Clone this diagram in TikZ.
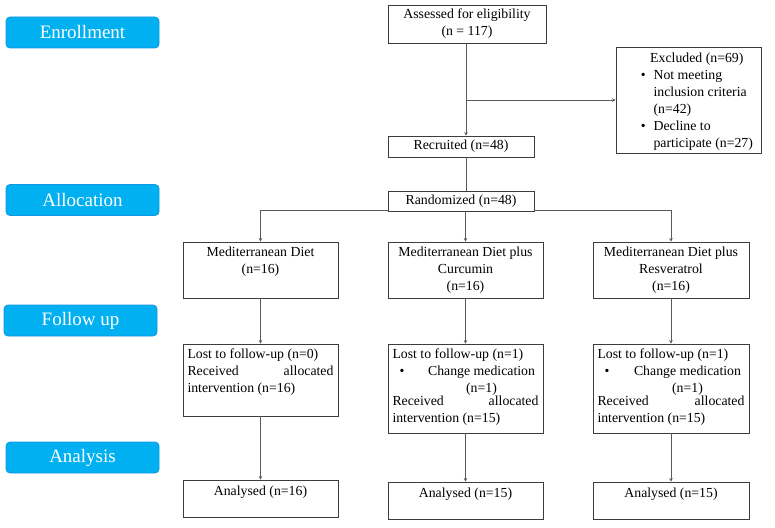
\documentclass[tikz,border=0pt]{standalone}
\usepackage{fontspec}
\setmainfont{Liberation Serif}
\usetikzlibrary{arrows.meta,positioning}
\definecolor{stagecyan}{RGB}{0,176,240}
\definecolor{stageedge}{RGB}{20,150,225}
\definecolor{boxline}{RGB}{60,60,60}
\definecolor{flowline}{RGB}{90,90,90}

\begin{document}
\begin{tikzpicture}[x=1pt, y=-1pt, >={Stealth[length=3.5pt,width=3.5pt]},
  stage/.style={rounded corners=4pt, fill=stagecyan, draw=stageedge, line width=0.8pt,
    text=white, minimum width=153pt, minimum height=31pt, inner sep=0pt,
    font=\fontsize{19}{22}\selectfont},
  box/.style={draw=boxline, line width=0.9pt, inner sep=0pt},
  txt/.style={inner sep=0pt, font=\fontsize{13.8}{17}\selectfont},
  flow/.style={draw=flowline, line width=0.9pt}]
  \useasboundingbox (0,0) rectangle (775,527);

  % stage labels on the left
  \node[stage] (enrol)    at (82.5,32.5)  {Enrollment};
  \node[stage] (alloc)    at (82.5,200)   {Allocation};
  \node[stage] (follow)   at (80.5,320.5) {Follow up};
  \node[stage] (analysis) at (82.5,457.5) {Analysis};

  % enrollment
  \node[box, txt, minimum width=158pt, minimum height=38pt, align=center] (assess) at (467,24)
        {Assessed for eligibility\\(n = 117)};
  \node[box, minimum width=145pt, minimum height=106pt] (excl) at (688.5,100) {};
  \node[txt, anchor=north west] (exclt) at ([xshift=25pt,yshift=-4pt]excl.north west)
        {\begin{tabular}{@{}c@{\hspace{8pt}}l@{}}
          \multicolumn{2}{@{}c@{}}{Excluded (n=69)}\\
          \textbullet & Not meeting\\
                      & inclusion criteria\\
                      & (n=42)\\
          \textbullet & Decline to\\
                      & participate (n=27)
         \end{tabular}};
  \node[box, txt, minimum width=146pt, minimum height=21pt] (recruit) at (461,146.5) {Recruited (n=48)};

  % allocation
  \node[box, txt, minimum width=146pt, minimum height=20pt] (random) at (461,201) {Randomized (n=48)};
  \node[box, minimum width=155pt, minimum height=56pt] (diet1) at (260.5,270) {};
  \node[box, minimum width=155pt, minimum height=56pt] (diet2) at (465.5,270) {};
  \node[box, minimum width=156pt, minimum height=56pt] (diet3) at (671,270) {};
  \node[txt, align=center, below=5pt of diet1.north] (diet1t) {Mediterranean Diet\\(n=16)};
  \node[txt, align=center, below=5pt of diet2.north] (diet2t) {Mediterranean Diet plus\\Curcumin\\(n=16)};
  \node[txt, align=center, below=5pt of diet3.north] (diet3t) {Mediterranean Diet plus\\Resveratrol\\(n=16)};

  % follow up
  \node[box, minimum width=155pt, minimum height=72pt] (lost1) at (260.5,380) {};
  \node[box, minimum width=155pt, minimum height=89pt] (lost2) at (465.5,388.5) {};
  \node[box, minimum width=156pt, minimum height=89pt] (lost3) at (671,388.5) {};
  \node[txt, text width=146pt, align=justify, below=5pt of lost1.north] (lost1t)
        {Lost to follow-up (n=0)\par Received allocated \mbox{intervention} (n=16)};
  \node[txt, text width=146pt, align=justify, below=5pt of lost2.north] (lost2t)
        {Lost to follow-up (n=1)\par
         \hspace*{7pt}\textbullet\hfill\parbox[t]{114pt}{\centering Change medication\\(n=1)}\par
         Received allocated \mbox{intervention} (n=15)};
  \node[txt, text width=147pt, align=justify, below=5pt of lost3.north] (lost3t)
        {Lost to follow-up (n=1)\par
         \hspace*{7pt}\textbullet\hfill\parbox[t]{114pt}{\centering Change medication\\(n=1)}\par
         Received allocated \mbox{intervention} (n=15)};

  % analysis
  \node[box, minimum width=155pt, minimum height=37pt] (anal1) at (260.5,498.5) {};
  \node[box, minimum width=155pt, minimum height=37pt] (anal2) at (465.5,500.5) {};
  \node[box, minimum width=156pt, minimum height=37pt] (anal3) at (671,500.5) {};
  \node[txt, below=6pt of anal1.north] (anal1t) {Analysed (n=16)};
  \node[txt, below=6pt of anal2.north] (anal2t) {Analysed (n=15)};
  \node[txt, below=6pt of anal3.north] (anal3t) {Analysed (n=15)};

  % connectors
  \coordinate (trunk) at ([xshift=-1pt]assess.south);
  \draw[flow,->] (trunk) -- (trunk |- recruit.north);
  \draw[flow,->] (trunk |- excl.west) -- (excl.west);
  \draw[flow] (trunk |- recruit.south) -- (trunk |- random.north);
  \draw[flow,->] (diet2.north |- random.south) -- (diet2.north);
  \draw[flow,->] ([yshift=1pt]random.south west) -| (diet1.north);
  \draw[flow,->] ([yshift=1pt]random.south east) -| (diet3.north);
  \foreach \g in {1,2,3}{
    \draw[flow,->] (diet\g.south) -- (lost\g.north);
    \draw[flow,->] (lost\g.south) -- (anal\g.north);
  }
\end{tikzpicture}
\end{document}
